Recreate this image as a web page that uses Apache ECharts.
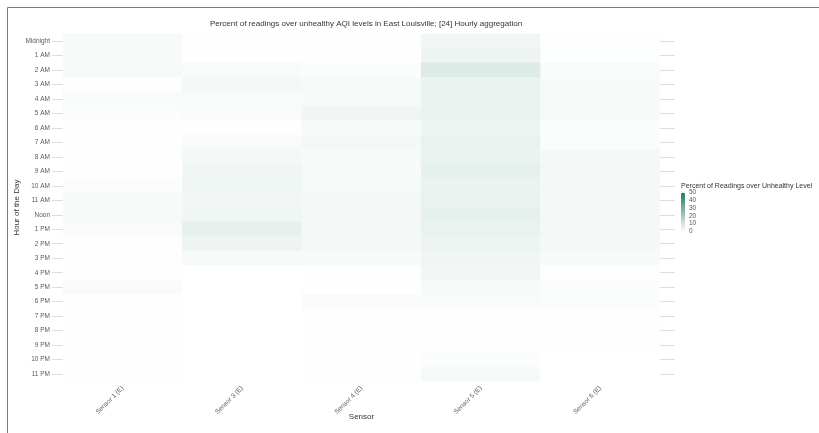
<!DOCTYPE html>
<html>
<head>
<meta charset="utf-8">
<script src="https://cdn.jsdelivr.net/npm/echarts@6/dist/echarts.min.js"></script>
<style>
  html, body { margin: 0; padding: 0; background: #ffffff; }
  #chart { width: 819px; height: 433px; }
</style>
</head>
<body>
<div id="chart"></div>
<script>
// Hour-of-day labels (rows) and sensors (columns)
const hours = ['Midnight', '1 AM', '2 AM', '3 AM', '4 AM', '5 AM', '6 AM', '7 AM', '8 AM', '9 AM', '10 AM', '11 AM',
  'Noon', '1 PM', '2 PM', '3 PM', '4 PM', '5 PM', '6 PM', '7 PM', '8 PM', '9 PM', '10 PM', '11 PM'];
const sensors = ['Sensor 1 (E)', 'Sensor 3 (E)', 'Sensor 4 (E)', 'Sensor 5 (E)', 'Sensor 6 (E)'];

// Percent of readings over the unhealthy AQI level, one value per hour
const sensor1 = [2.0, 2.0, 2.0, 0.3, 1.5, 1.0, 0.3, 0.5, 0.5, 0.5, 0.8, 2.0, 2.0, 1.5, 0.3, 0.3, 0.3, 1.5, 0.2, 0.2, 0.2, 0.4, 0.6, 0.5];
const sensor3 = [0.3, 0.3, 1.5, 2.5, 1.5, 1.5, 0.2, 1.5, 2.5, 3.5, 3.5, 3.0, 3.5, 5.5, 4.0, 2.0, 0.1, 0.1, 0.1, 0.1, 0.1, 0.1, 0.1, 0.1];
const sensor4 = [0.2, 0.2, 1.0, 2.0, 2.0, 3.5, 2.0, 2.5, 2.0, 2.0, 2.0, 2.5, 2.5, 2.5, 2.5, 2.0, 0.3, 0.3, 1.5, 0.2, 0.2, 0.2, 0.2, 0.2];
const sensor5 = [3.0, 4.0, 7.5, 4.5, 4.5, 4.5, 4.0, 5.0, 4.5, 5.5, 4.5, 5.0, 5.5, 5.0, 4.0, 3.5, 3.0, 2.0, 1.5, 0.3, 0.5, 0.3, 1.0, 2.0];
const sensor6 = [0.4, 0.4, 1.5, 2.0, 2.0, 2.0, 1.0, 1.0, 2.5, 2.5, 2.5, 2.5, 2.5, 2.5, 2.5, 2.0, 0.5, 0.8, 1.0, 0.3, 0.3, 0.3, 0.1, 0.1];

// Colour-bar tick range
const legendMin = 0;
const legendMax = 50;
const legendStep = 10;

const seriesValues = [sensor1, sensor3, sensor4, sensor5, sensor6];
const cells = [];
seriesValues.forEach((vals, xi) => {
  vals.forEach((v, yi) => cells.push([xi, yi, v]));
});

const FONT = 'Liberation Sans, Arial, sans-serif';
const chart = echarts.init(document.getElementById('chart'), null, { renderer: 'canvas' });

chart.setOption({
  animation: false,
  backgroundColor: '#ffffff',
  textStyle: { fontFamily: FONT },
  title: {
    text: 'Percent of readings over unhealthy AQI levels in East Louisville; [24] Hourly aggregation',
    left: 361, top: 15, textAlign: 'center',
    textStyle: { fontSize: 8, fontWeight: 'normal', color: '#333333', fontFamily: FONT }
  },
  grid: [
    // heatmap cells
    { left: 63, top: 33.8, width: 597, height: 347.5 },
    // background horizontal grid lines through the row centres
    { left: 52, top: 41.05, width: 623, height: 333 },
    // colour-bar tick labels
    { left: 681, top: 192.5, width: 4, height: 39 }
  ],
  xAxis: [
    {
      gridIndex: 0, type: 'category', data: sensors,
      axisLine: { show: false }, axisTick: { show: false }, splitLine: { show: false },
      axisLabel: { rotate: 45, margin: 6, fontSize: 6.5, color: '#5a5a5a', fontFamily: FONT },
      name: 'Sensor', nameLocation: 'middle', nameGap: 31, nameMoveOverlap: false,
      nameTextStyle: { fontSize: 8, color: '#333333', fontFamily: FONT }
    },
    { gridIndex: 1, type: 'value', show: false, min: 0, max: 1 },
    { gridIndex: 2, type: 'value', show: false, min: 0, max: 1 }
  ],
  yAxis: [
    {
      gridIndex: 0, type: 'category', data: hours, inverse: true,
      axisLine: { show: false }, axisTick: { show: false }, splitLine: { show: false },
      axisLabel: { margin: 13, fontSize: 6.5, color: '#5a5a5a', fontFamily: FONT },
      name: 'Hour of the Day', nameLocation: 'middle', nameGap: 42, nameRotate: 90, nameMoveOverlap: false,
      nameTextStyle: { fontSize: 8, color: '#333333', fontFamily: FONT }
    },
    {
      gridIndex: 1, type: 'value', inverse: true, min: 0, max: hours.length - 1, interval: 1,
      axisLine: { show: false }, axisTick: { show: false }, axisLabel: { show: false },
      splitLine: { show: true, lineStyle: { color: '#dedede', width: 1 } }
    },
    {
      gridIndex: 2, type: 'value', position: 'right', min: legendMin, max: legendMax, interval: legendStep,
      axisLine: { show: false }, axisTick: { show: false }, splitLine: { show: false },
      axisLabel: { margin: 4, fontSize: 6.5, color: '#555555', fontFamily: FONT }
    }
  ],
  visualMap: {
    type: 'continuous', min: legendMin, max: legendMax, calculable: false,
    orient: 'vertical', left: 681, top: 192.5, itemWidth: 4, itemHeight: 39,
    padding: 0, text: null, showLabel: false, hoverLink: false,
    inRange: { color: ['#ffffff', '#1e7b5f'] },
    seriesIndex: 0
  },
  series: [{
    type: 'heatmap', xAxisIndex: 0, yAxisIndex: 0, data: cells,
    itemStyle: { borderWidth: 0 }, emphasis: { disabled: true }, z: 3
  }],
  graphic: [{
    // outer frame
    type: 'rect', silent: true, z: -1,
    shape: { x: 7.5, y: 7.5, width: 1000, height: 1000 },
    style: { fill: 'none', stroke: '#7a7a7a', lineWidth: 1 }
  }, {
    // legend title above the colour bar
    type: 'text', left: 681, top: 183, silent: true,
    style: { text: 'Percent of Readings over Unhealthy Level', fontSize: 7, fill: '#333333', fontFamily: FONT }
  }]
});
</script>
</body>
</html>
